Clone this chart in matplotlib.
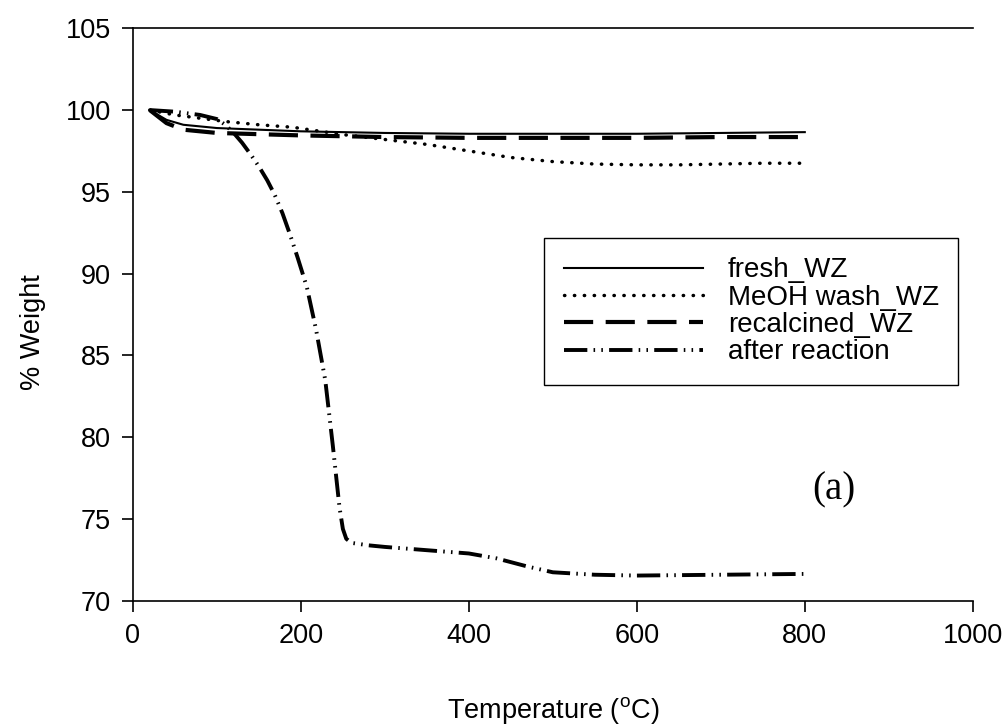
import matplotlib
matplotlib.use("Agg")
import matplotlib.pyplot as plt

plt.rcParams['font.family'] = ['Liberation Sans', 'DejaVu Sans']
plt.rcParams['mathtext.fontset'] = 'custom'
plt.rcParams['mathtext.rm'] = 'Liberation Sans'

# TGA curves
fresh_t = [20, 30, 40, 60, 100, 150, 200, 300, 400, 500, 600, 700, 800]
fresh_w = [100, 99.7, 99.4, 99.1, 98.9, 98.8, 98.7, 98.6, 98.55, 98.55, 98.55, 98.6, 98.65]

meoh_t = [20, 50, 80, 110, 150, 190, 250, 300, 350, 400, 450, 500, 550, 600, 650, 700, 750, 800]
meoh_w = [100, 99.7, 99.5, 99.3, 99.1, 98.95, 98.5, 98.2, 97.9, 97.5, 97.1, 96.85, 96.7,
          96.65, 96.65, 96.7, 96.75, 96.75]

recalc_t = [20, 30, 40, 60, 100, 200, 300, 400, 500, 600, 700, 800]
recalc_w = [100, 99.6, 99.2, 98.8, 98.6, 98.45, 98.35, 98.3, 98.3, 98.3, 98.35, 98.35]

after_t = [20, 50, 80, 100, 110, 120, 130, 140, 150, 160, 169, 178, 187, 196, 207, 218, 229,
           238, 246, 250, 254, 260, 280, 300, 350, 400, 433, 470, 500, 550, 600, 700, 800]
after_w = [100, 99.9, 99.7, 99.45, 99.1, 98.6, 98.0, 97.3, 96.55, 95.7, 94.8, 93.7, 92.4,
           91.0, 89.2, 86.6, 83.5, 79.5, 75.7, 74.4, 73.8, 73.55, 73.4, 73.3, 73.1, 72.9,
           72.6, 72.1, 71.75, 71.6, 71.55, 71.6, 71.65]

fig = plt.figure(figsize=(10.07, 7.24), dpi=100)
ax = fig.add_axes([0.132, 0.170, 0.834, 0.791])

ax.plot(fresh_t, fresh_w, color='black', lw=1.5, ls='-', label='fresh_WZ')
ax.plot(meoh_t, meoh_w, color='black', lw=2.5, ls=(0, (0.1, 2.75)),
        dash_capstyle='round', label='MeOH wash_WZ')
ax.plot(recalc_t, recalc_w, color='black', lw=3, ls=(0, (7, 3)), label='recalcined_WZ')
ax.plot(after_t, after_w, color='black', lw=2.8, ls=(0, (6, 1.6, 0.4, 1.6, 0.4, 1.6)),
        label='after reaction')

ax.set_xlim(0, 1000)
ax.set_ylim(70, 105)
ax.set_xticks([0, 200, 400, 600, 800, 1000])
ax.set_yticks([70, 75, 80, 85, 90, 95, 100, 105])
ax.tick_params(direction='out', length=8, width=1.2, labelsize=19.5, pad=8)
ax.spines['right'].set_visible(False)
for s in ['left', 'bottom', 'top']:
    ax.spines[s].set_linewidth(1.2)

ax.set_xlabel('Temperature ($^{\\mathrm{o}}$C)', fontsize=19.5, labelpad=33)
ax.set_ylabel('% Weight', fontsize=19.5)
ax.yaxis.set_label_coords(-0.104, 0.47)

leg = ax.legend(loc='upper left', bbox_to_anchor=(0.49, 0.634), fontsize=20,
                frameon=True, fancybox=False, edgecolor='black', framealpha=1,
                handlelength=5.0, handletextpad=0.9, labelspacing=0.05,
                borderpad=0.7, borderaxespad=0)
leg.get_frame().set_linewidth(1.0)

ax.text(835, 76.8, '(a)', fontsize=28, family='Liberation Serif', ha='center', va='center')

fig.savefig('out.png', dpi=100)
